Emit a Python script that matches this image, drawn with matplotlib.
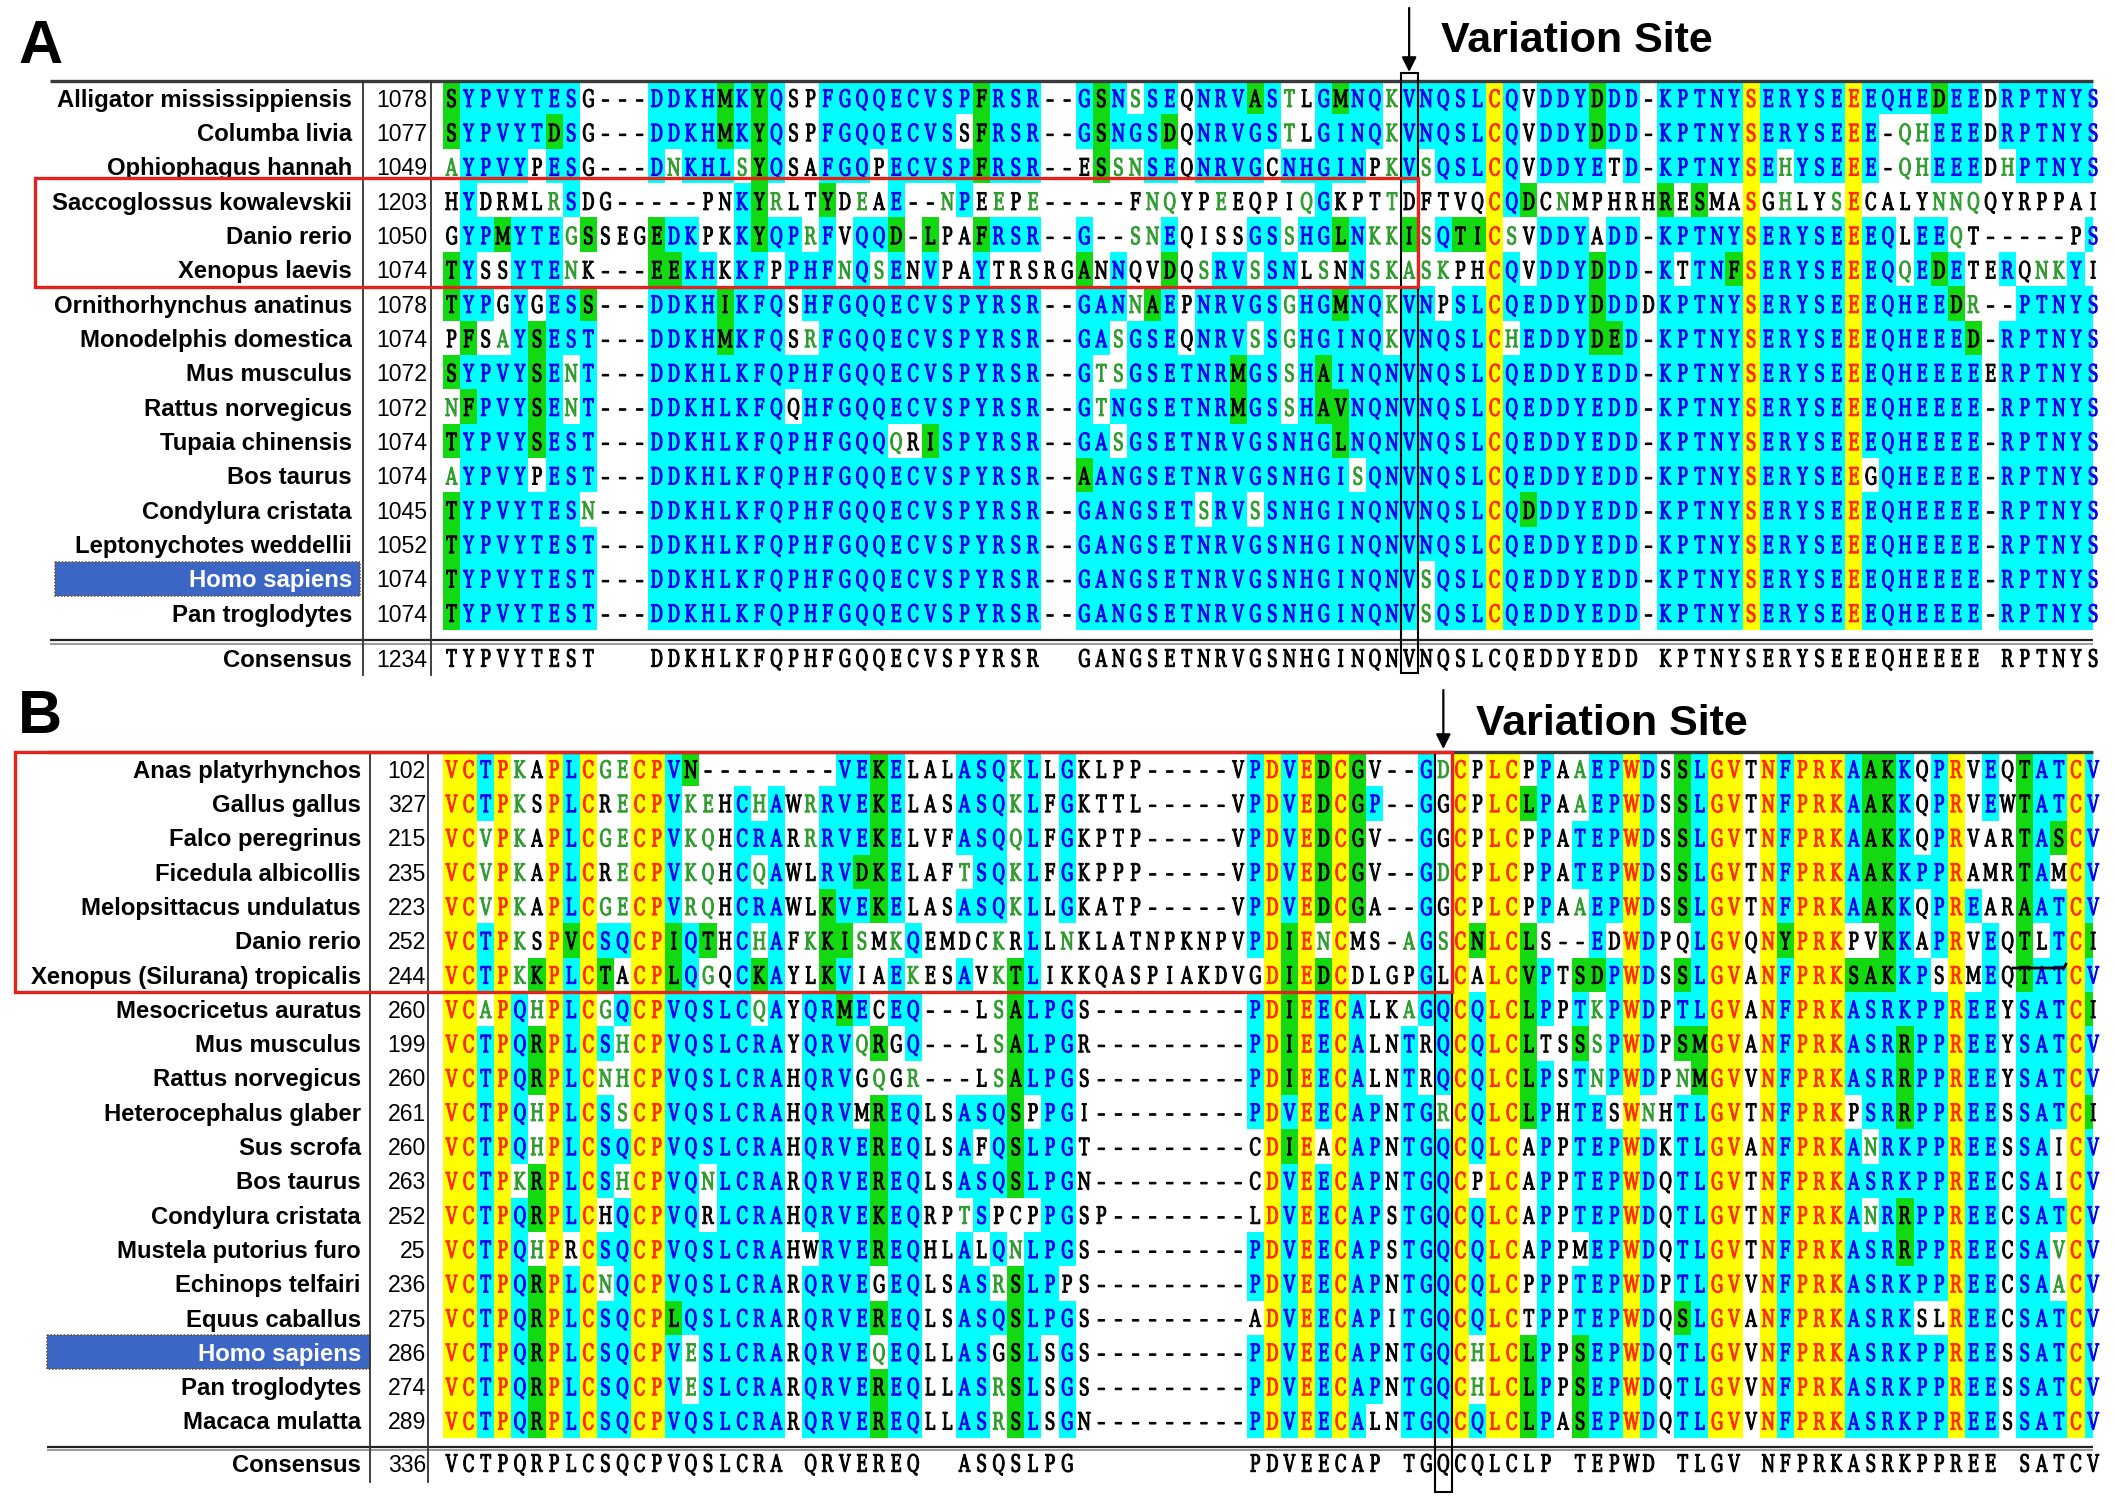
import numpy as np
import matplotlib
matplotlib.use("Agg")
import matplotlib.pyplot as plt
from matplotlib.textpath import TextPath
from matplotlib.font_manager import FontProperties
from matplotlib.path import Path
from matplotlib.patches import PathPatch, Rectangle
from matplotlib.colors import to_rgb

# ============================ DATA ============================
# ---- panel A ----
species_a = ["Alligator mississippiensis", "Columba livia", "Ophiophagus hannah",
             "Saccoglossus kowalevskii", "Danio rerio", "Xenopus laevis",
             "Ornithorhynchus anatinus", "Monodelphis domestica", "Mus musculus",
             "Rattus norvegicus", "Tupaia chinensis", "Bos taurus",
             "Condylura cristata", "Leptonychotes weddellii", "Homo sapiens",
             "Pan troglodytes"]
start_a = [1078, 1077, 1049, 1203, 1050, 1074, 1078, 1074, 1072, 1072,
           1074, 1074, 1045, 1052, 1074, 1074]
seq_a = [
    "SYPVYTESG---" "DDKHMKYQSPFGQQECVSPFRSR" "--" "GSNSSEQNRVASTLGMNQK" "V" "NQSL" "C" "QVDDYDDD" "-" "KPTNY" "S" "ERYSE" "E" "EQHEDEED" "RPTNYS",
    "SYPVYTDSG---" "DDKHMKYQSPFGQQECVSSFRSR" "--" "GSNGSDQNRVGSTLGINQK" "V" "NQSL" "C" "QVDDYDDD" "-" "KPTNY" "S" "ERYSE" "E" "E-QHEEED" "RPTNYS",
    "AYPVYPESG---" "DNKHLSYQSAFGQPECVSPFRSR" "--" "ESSNSEQNRVGCNHGINPK" "V" "SQSL" "C" "QVDDYETD" "-" "KPTNY" "S" "EHYSE" "E" "E-QHEEED" "HPTNYS",
    "HYDRMLRSDG--" "---PNKYRLTYDEAE--NPEEPE" "--" "---FNQYPEEQPIQGKPTT" "D" "FTVQ" "C" "QDCNMPHR" "H" "RESMA" "S" "GHLYS" "E" "CALYNNQQ" "YRPPAI",
    "GYPMYTEGSSEG" "EDKPKKYQPRFVQQD-LPAFRSR" "--" "G--SNEQISSGSSHGLNKK" "I" "SQTI" "C" "SVDDYADD" "-" "KPTNY" "S" "ERYSE" "E" "EQLEEQT-" "----PS",
    "TYSSYTENK---" "EEKHKKFPPHFNQSENVPAYTRS" "RG" "ANNQVDQSRVSSNLSNNSK" "A" "SKPH" "C" "QVDDYDDD" "-" "KTTNF" "S" "ERYSE" "E" "EQQEDETE" "RQNKYI",
    "TYPGYGESS---" "DDKHIKFQSHFGQQECVSPYRSR" "--" "GANNAEPNRVGSGHGMNQK" "V" "NPSL" "C" "QEDDYDDD" "D" "KPTNY" "S" "ERYSE" "E" "EQHEEDR-" "-PTNYS",
    "PFSAYSEST---" "DDKHMKFQSRFGQQECVSPYRSR" "--" "GASGSEQNRVSSGHGINQK" "V" "NQSL" "C" "HEDDYDED" "-" "KPTNY" "S" "ERYSE" "E" "EQHEEED-" "RPTNYS",
    "SYPVYSENT---" "DDKHLKFQPHFGQQECVSPYRSR" "--" "GTSGSETNRMGSSHAINQN" "V" "NQSL" "C" "QEDDYEDD" "-" "KPTNY" "S" "ERYSE" "E" "EQHEEEEE" "RPTNYS",
    "NFPVYSENT---" "DDKHLKFQQHFGQQECVSPYRSR" "--" "GTNGSETNRMGSSHAVNQN" "V" "NQSL" "C" "QEDDYEDD" "-" "KPTNY" "S" "ERYSE" "E" "EQHEEEE-" "RPTNYS",
    "TYPVYSEST---" "DDKHLKFQPHFGQQQRISPYRSR" "--" "GASGSETNRVGSNHGLNQN" "V" "NQSL" "C" "QEDDYEDD" "-" "KPTNY" "S" "ERYSE" "E" "EQHEEEE-" "RPTNYS",
    "AYPVYPEST---" "DDKHLKFQPHFGQQECVSPYRSR" "--" "AANGSETNRVGSNHGISQN" "V" "NQSL" "C" "QEDDYEDD" "-" "KPTNY" "S" "ERYSE" "E" "GQHEEEE-" "RPTNYS",
    "TYPVYTESN---" "DDKHLKFQPHFGQQECVSPYRSR" "--" "GANGSETSRVSSNHGINQN" "V" "NQSL" "C" "QDDDYEDD" "-" "KPTNY" "S" "ERYSE" "E" "EQHEEEE-" "RPTNYS",
    "TYPVYTEST---" "DDKHLKFQPHFGQQECVSPYRSR" "--" "GANGSETNRVGSNHGINQN" "V" "NQSL" "C" "QEDDYEDD" "-" "KPTNY" "S" "ERYSE" "E" "EQHEEEE-" "RPTNYS",
    "TYPVYTEST---" "DDKHLKFQPHFGQQECVSPYRSR" "--" "GANGSETNRVGSNHGINQN" "V" "SQSL" "C" "QEDDYEDD" "-" "KPTNY" "S" "ERYSE" "E" "EQHEEEE-" "RPTNYS",
    "TYPVYTEST---" "DDKHLKFQPHFGQQECVSPYRSR" "--" "GANGSETNRVGSNHGINQN" "V" "SQSL" "C" "QEDDYEDD" "-" "KPTNY" "S" "ERYSE" "E" "EQHEEEE-" "RPTNYS",
]
consensus_a = ("TYPVYTEST   " "DDKHLKFQPHFGQQECVSPYRSR" "  " "GANGSETNRVGSNHGINQN" "V" "NQSL" "C"
               "QEDDYEDD" " " "KPTNY" "S" "ERYSE" "E" "EQHEEEE " "RPTNYS")
consensus_start_a = 1234
boxed_rows_a = [3, 4, 5]
variation_col_a = 57

# ---- panel B ----
species_b = ["Anas platyrhynchos", "Gallus gallus", "Falco peregrinus",
             "Ficedula albicollis", "Melopsittacus undulatus", "Danio rerio",
             "Xenopus (Silurana) tropicalis", "Mesocricetus auratus", "Mus musculus",
             "Rattus norvegicus", "Heterocephalus glaber", "Sus scrofa", "Bos taurus",
             "Condylura cristata", "Mustela putorius furo", "Echinops telfairi",
             "Equus caballus", "Homo sapiens", "Pan troglodytes", "Macaca mulatta"]
start_b = [102, 327, 215, 235, 223, 252, 244, 260, 199, 260, 261, 260, 263,
           252, 25, 236, 275, 286, 274, 289]
seq_b = [
    "VCTPKAPLCGECP" "VN-----" "---VEKEL" "ALASQKLLGK" "LPP-----V" "PDVEDCGV--GD" "CPLCPPAAEPWD" "SSLGVTNFPRK" "AAKKQPRVEQTATCV",
    "VCTPKSPLCRECP" "VKEHCHA" "WRRVEKEL" "ASASQKLFGK" "TTL-----V" "PDVEDCGP--GG" "CPLCLPAAEPWD" "SSLGVTNFPRK" "AAKKQPRVEWTATCV",
    "VCVPKAPLCGECP" "VKQHCRA" "RRRVEKEL" "VFASQQLFGK" "PTP-----V" "PDVEDCGV--GG" "CPLCPPATEPWD" "SSLGVTNFPRK" "AAKKQPRVARTASCV",
    "VCVPKAPLCRECP" "VKQHCQA" "WLRVDKEL" "AFTSQKLFGK" "PPP-----V" "PDVEDCGV--GD" "CPLCPPATEPWD" "SSLGVTNFPRK" "AAKKPPRAMRTAMCV",
    "VCVPKAPLCGECP" "VRQHCRA" "WLKVEKEL" "ASASQKLLGK" "ATP-----V" "PDVEDCGA--GG" "CPLCPPAAEPWD" "SSLGVTNFPRK" "AAKKQPREARAATCV",
    "VCTPKSPVCSQCP" "IQTHCHA" "FKKISMKQ" "EMDCKRLLNK" "LATNPKNPV" "PDIENCMS-AGS" "CNLCLS--EDWD" "PQLGVQNYPRK" "PVKKAPRVEQTLTCI",
    "VCTPKKPLCTACP" "LQGQCKA" "YLKVIAEK" "ESAVKTLIKK" "QASPIAKDV" "GDIEDCDLGPGL" "CALCVPTSDPWD" "SSLGVANFPRK" "SAKKPSRMEQTATCV",
    "VCAPQHPLCGQCP" "VQSLCQA" "YQRMECEQ" "---LSALPGS" "---------" "PDIEECALKAGQ" "CQLCLPPTKPWD" "PTLGVANFPRK" "ASRKPPREEYSATCI",
    "VCTPQRPLCSHCP" "VQSLCRA" "YQRVQRGQ" "---LSALPGR" "---------" "PDIEECALNTRQ" "CQLCLTSSSPWD" "PSMGVANFPRK" "ASRRPPREEYSATCV",
    "VCTPQRPLCNHCP" "VQSLCRA" "HQRVGQGR" "---LSALPGS" "---------" "PDIEECALNTRQ" "CQLCLPSTNPWD" "PNMGVVNFPRK" "ASRRPPREEYSATCV",
    "VCTPQHPLCSSCP" "VQSLCRA" "HQRVMREQ" "LSASQSPPGI" "---------" "PDVEECAPNTGR" "CQLCLPHTESWN" "HTLGVTNFPRK" "PSRRPPREESSATCI",
    "VCTPQHPLCSQCP" "VQSLCRA" "HQRVEREQ" "LSAFQSLPGT" "---------" "CDIEACAPNTGQ" "CQLCAPPTEPWD" "KTLGVANFPRK" "ANRKPPREESSAICV",
    "VCTPKRPLCSHCP" "VQNLCRA" "RQRVEREQ" "LSASQSLPGN" "---------" "CDVEECAPNTGQ" "CPLCAPPTEPWD" "QTLGVTNFPRK" "ASRKPPREECSAICV",
    "VCTPQRPLCHQCP" "VQRLCRA" "HQRVEKEQ" "RPTSPCPPGS" "P--------" "LDVEECAPSTGQ" "CQLCAPPTEPWD" "QTLGVTNFPRK" "ANRRPPREECSATCV",
    "VCTPQHPRCSQCP" "VQSLCRA" "HWRVEREQ" "HLALQNLPGS" "---------" "PDVEECAPSTGQ" "CQLCAPPMEPWD" "QTLGVTNFPRK" "ASRRPPREECSAVCV",
    "VCTPQRPLCNQCP" "VQSLCRA" "RQRVEGEQ" "LSASRSLPPS" "---------" "PDVEECAPNTGQ" "CQLCPPPTEPWD" "PTLGVVNFPRK" "ASRKPPREECSAACV",
    "VCTPQRPLCSQCP" "LQSLCRA" "RQRVEREQ" "LSASQSLPGS" "---------" "ADVEECAPITGQ" "CQLCTPPTEPWD" "QSLGVANFPRK" "ASRKSLREECSATCV",
    "VCTPQRPLCSQCP" "VESLCRA" "RQRVEQEQ" "LLASGSLSGS" "---------" "PDVEECAPNTGQ" "CHLCLPPSEPWD" "QTLGVVNFPRK" "ASRKPPREESSATCV",
    "VCTPQRPLCSQCP" "VESLCRA" "RQRVEREQ" "LLASRSLSGS" "---------" "PDVEECAPNTGQ" "CHLCLPPSEPWD" "QTLGVVNFPRK" "ASRKPPREESSATCV",
    "VCTPQRPLCSQCP" "VQSLCRA" "RQRVEREQ" "LLASRSLSGN" "---------" "PDVEECALNTGQ" "CQLCLPASEPWD" "QTLGVVNFPRK" "ASRKPPREESSATCV",
]
consensus_b = ("VCTPQRPLCSQCP" "VQSLCRA" " QRVEREQ" "  ASQSLPG " "         " "PDVEECAP TGQ"
               "CQLCLP TEPWD" " TLGV NFPRK" "ASRKPPREE SATCV")
consensus_start_b = 336
boxed_rows_b = [0, 1, 2, 3, 4, 5, 6]
variation_col_b = 59

highlight_species = "Homo sapiens"

# =================== residue similarity tables ===================
AA = "ARNDCQEGHILKMFPSTWYV"
BLOSUM62_ROWS = [
    " 4 -1 -2 -2  0 -1 -1  0 -2 -1 -1 -1 -1 -2 -1  1  0 -3 -2  0",
    "-1  5  0 -2 -3  1  0 -2  0 -3 -2  2 -1 -3 -2 -1 -1 -3 -2 -3",
    "-2  0  6  1 -3  0  0  0  1 -3 -3  0 -2 -3 -2  1  0 -4 -2 -3",
    "-2 -2  1  6 -3  0  2 -1 -1 -3 -4 -1 -3 -3 -1  0 -1 -4 -3 -3",
    " 0 -3 -3 -3  9 -3 -4 -3 -3 -1 -1 -3 -1 -2 -3 -1 -1 -2 -2 -1",
    "-1  1  0  0 -3  5  2 -2  0 -3 -2  1  0 -3 -1  0 -1 -2 -1 -2",
    "-1  0  0  2 -4  2  5 -2  0 -3 -3  1 -2 -3 -1  0 -1 -3 -2 -2",
    " 0 -2  0 -1 -3 -2 -2  6 -2 -4 -4 -2 -3 -3 -2  0 -2 -2 -3 -3",
    "-2  0  1 -1 -3  0  0 -2  8 -3 -3 -1 -2 -1 -2 -1 -2 -2  2 -3",
    "-1 -3 -3 -3 -1 -3 -3 -4 -3  4  2 -3  1  0 -3 -2 -1 -3 -1  3",
    "-1 -2 -3 -4 -1 -2 -3 -4 -3  2  4 -2  2  0 -3 -2 -1 -2 -1  1",
    "-1  2  0 -1 -3  1  1 -2 -1 -3 -2  5 -1 -3 -1  0 -1 -3 -2 -2",
    "-1 -1 -2 -3 -1  0 -2 -3 -2  1  2 -1  5  0 -2 -1 -1 -1 -1  1",
    "-2 -3 -3 -3 -2 -3 -3 -3 -1  0  0 -3  0  6 -4 -2 -2  1  3 -1",
    "-1 -2 -2 -1 -3 -1 -1 -2 -2 -3 -3 -1 -2 -4  7 -1 -1 -4 -3 -2",
    " 1 -1  1  0 -1  0  0  0 -1 -2 -2  0 -1 -2 -1  4  1 -3 -2 -2",
    " 0 -1  0 -1 -1 -1 -1 -2 -2 -1 -1 -1 -1 -2 -1  1  5 -2 -2  0",
    "-3 -3 -4 -4 -2 -2 -3 -2 -2 -3 -2 -3 -1  1 -4 -3 -2 11  2 -3",
    "-2 -2 -2 -3 -2 -1 -2 -3  2 -1 -1 -2 -1  3 -3 -2 -2  2  7 -1",
    " 0 -3 -3 -3 -1 -2 -2 -3 -3  3  1 -2  1 -1 -2 -2  0 -3 -1  4",
]
BLOSUM = {}
for i, row in enumerate(BLOSUM62_ROWS):
    for j, v in enumerate(row.split()):
        BLOSUM[(AA[i], AA[j])] = int(v)
STRONG_PAIRS = {frozenset(p) for p in ["ST", "SA", "AG", "DE", "KR", "NQ", "IL", "IV", "LV",
                                        "IM", "LM", "VM", "FY", "FW", "YW"]}

# colours
CYAN, YELLOW, GREEN, WHITE = "#00FFFF", "#FFFF00", "#12D912", "#FFFFFF"
BLUE, RED, GREEN_TXT, BLACK = "#0000F0", "#FF2A00", "#2E9B2E", "#000000"


def cell_styles(seqs, cons):
    n, m = len(seqs), len(cons)
    bg = [[WHITE] * m for _ in range(n)]
    fg = [[BLACK] * m for _ in range(n)]
    for c in range(m):
        k = cons[c]
        if k == " ":
            continue
        col = [s[c] for s in seqs]
        nid = sum(ch == k for ch in col)
        for r, ch in enumerate(col):
            if ch == "-":
                continue
            if ch == k:
                if nid == n:
                    bg[r][c], fg[r][c] = YELLOW, RED
                elif nid / n >= 0.5:
                    bg[r][c], fg[r][c] = CYAN, BLUE
                else:
                    bg[r][c], fg[r][c] = GREEN, BLACK
            elif frozenset((ch, k)) in STRONG_PAIRS:
                bg[r][c], fg[r][c] = GREEN, BLACK
            elif BLOSUM.get((ch, k), -4) >= 0:
                fg[r][c] = GREEN_TXT
    return bg, fg


# ===================== glyph machinery =====================
FP_SEQ = FontProperties(family="DejaVu Serif")
_cache = {}


def glyph(ch):
    if ch not in _cache:
        tp = TextPath((0, 0), "\u2013" if ch == "-" else ch, size=1, prop=FP_SEQ)
        ext = tp.get_extents()
        v = tp.vertices.copy()
        v[:, 0] -= (ext.x0 + ext.x1) / 2.0
        _cache[ch] = (v, tp.codes, ext.width)
    return _cache[ch]


CAP = TextPath((0, 0), "H", size=1, prop=FP_SEQ).get_extents().y1
MAXW = max(glyph(c)[2] for c in "ACDEFGHIKLMNPQRSTVWY")

# =========================== layout ===========================
W_PX, H_PX, DPI = 2115, 1504, 100
X0, PX = 443.0, 17.1          # left edge of first residue column, column pitch (px)
CLIP_PX = 2093.0
EM = 23.8                     # sequence glyph em size in px
XCOMP = min(1.0, 15.8 / (MAXW * EM))

layout = [
    dict(label="A", names=species_a, starts=start_a, seqs=seq_a, cons=consensus_a,
         cons_start=consensus_start_a, boxed=boxed_rows_a, var_col=variation_col_a,
         y_from=0, y_to=690, top=81.0, pitch=34.33, cons_y=658.0, dbl=(639.5, 643.5),
         vlines=(363, 431), vline_bot=675, name_right=352, num_right=427, line_left=50,
         red_left=35, red_top=178, red_bot=287, hl=(55, 360),
         var_top=73, var_bot=673, arrow=(8, 72), lab_base=63, vs_base=52, vs_left=1441),
    dict(label="B", names=species_b, starts=start_b, seqs=seq_b, cons=consensus_b,
         cons_start=consensus_start_b, boxed=boxed_rows_b, var_col=variation_col_b,
         y_from=690, y_to=1504, top=752.0, pitch=34.3, cons_y=1463.0, dbl=(1446.5, 1450),
         vlines=(370, 428), vline_bot=1482, name_right=361, num_right=426, line_left=47,
         red_left=15, red_top=752, red_bot=992, hl=(47, 370),
         var_top=752, var_bot=1492, arrow=(690, 749), lab_base=733, vs_base=735, vs_left=1476),
]

plt.rcParams["font.family"] = ["Liberation Sans", "DejaVu Sans"]
fig = plt.figure(figsize=(W_PX / DPI, H_PX / DPI), dpi=DPI)
fig.patch.set_facecolor("white")
axes = []

for L in layout:
    top, pitch = L["top"], L["pitch"]
    xd = lambda px: (px - X0) / PX
    yd = lambda py: (py - top) / pitch
    ax = fig.add_axes([0, 1 - L["y_to"] / H_PX, 1, (L["y_to"] - L["y_from"]) / H_PX])
    ax.set_axis_off()
    axes.append(ax)

    seqs, cons = [s.ljust(97, "-")[:97] for s in L["seqs"]], L["cons"].ljust(97)[:97]
    nrows, ncols = len(seqs), len(cons)
    bg, fg = cell_styles(seqs, cons)
    rgb = np.array([[to_rgb(c) for c in row] for row in bg])
    im = ax.imshow(rgb, extent=(0, ncols, nrows, 0), interpolation="nearest",
                   aspect="auto", zorder=1)
    clip = Rectangle((0, yd(L["y_from"])), xd(CLIP_PX), yd(L["y_to"]) - yd(L["y_from"]),
                     transform=ax.transData)
    im.set_clip_path(clip)

    gx = EM * XCOMP / PX
    gy = EM / pitch
    base_off = CAP * EM / 2 / pitch

    groups = {}

    def put(ch, col_idx, yc, color):
        v, codes, _ = glyph(ch)
        nv = np.empty_like(v)
        nv[:, 0] = col_idx + 0.5 + v[:, 0] * gx
        nv[:, 1] = yc + base_off - v[:, 1] * gy
        groups.setdefault(color, []).append(Path(nv, codes))

    for r, s in enumerate(seqs):
        for c, ch in enumerate(s):
            put(ch, c, r + 0.5, fg[r][c])
    ycons = yd(L["cons_y"])
    for c, ch in enumerate(cons):
        if ch != " ":
            put(ch, c, ycons, BLACK)
    for color, paths in groups.items():
        pp = PathPatch(Path.make_compound_path(*paths), facecolor=color, edgecolor=color,
                       lw=0.75, zorder=3)
        pp.set_clip_path(clip)
        ax.add_patch(pp)

    # names and start numbers
    name_off = 0.716 * 24 / 2 / pitch
    for r, (nm, st) in enumerate(zip(L["names"], L["starts"])):
        if nm == highlight_species:
            ax.add_patch(Rectangle((xd(L["hl"][0]), r), xd(L["hl"][1]) - xd(L["hl"][0]), 1,
                                   facecolor="#3B66C6", edgecolor="#6a5a30", lw=1.2,
                                   linestyle=(0, (1, 1)), zorder=2))
            tc = "white"
        else:
            tc = "black"
        ax.text(xd(L["name_right"]), r + 0.5 + name_off, nm, ha="right", va="baseline",
                fontsize=17.2, fontweight="bold", color=tc, zorder=4)
        ax.text(xd(L["num_right"]), r + 0.5 + name_off, str(st), ha="right", va="baseline",
                fontsize=16.6, color="black", zorder=4)
    ax.text(xd(L["name_right"]), ycons + name_off, "Consensus", ha="right", va="baseline",
            fontsize=17.2, fontweight="bold", color="black", zorder=4)
    ax.text(xd(L["num_right"]), ycons + name_off, str(L["cons_start"]), ha="right",
            va="baseline", fontsize=16.6, color="black", zorder=4)

    # rules
    ax.plot([xd(L["line_left"]), xd(CLIP_PX)], [0, 0], color="#3a3a3a", lw=2.4, zorder=5,
            solid_capstyle="butt")
    ax.plot([xd(L["line_left"]), xd(CLIP_PX)], [yd(L["dbl"][0])] * 2, color="#222222", lw=1.6,
            zorder=5, solid_capstyle="butt")
    ax.plot([xd(L["line_left"]), xd(CLIP_PX)], [yd(L["dbl"][1])] * 2, color="#9a9a9a", lw=1.4,
            zorder=5, solid_capstyle="butt")
    for vx in L["vlines"]:
        ax.plot([xd(vx)] * 2, [0, yd(L["vline_bot"])], color="#333333", lw=1.3, zorder=5)

    # variation-site column box
    vc = L["var_col"]
    ax.add_patch(Rectangle((vc - 1, yd(L["var_top"])), 1, yd(L["var_bot"]) - yd(L["var_top"]),
                           fill=False, edgecolor="black", lw=1.5, zorder=6))
    # red box around the outlier species
    ax.add_patch(Rectangle((xd(L["red_left"]), yd(L["red_top"])),
                           vc - xd(L["red_left"]), yd(L["red_bot"]) - yd(L["red_top"]),
                           fill=False, edgecolor="#E3231E", lw=2.4, zorder=7))

    # arrow + caption
    ax.annotate("", xy=(vc - 0.5, yd(L["arrow"][1])), xytext=(vc - 0.5, yd(L["arrow"][0])),
                arrowprops=dict(arrowstyle="-|>", color="black", lw=1.6,
                                mutation_scale=22, shrinkA=0, shrinkB=0), zorder=8,
                annotation_clip=False)
    ax.text(xd(L["vs_left"]), yd(L["vs_base"]), "Variation Site", ha="left", va="baseline",
            fontsize=31, fontweight="bold", color="black", zorder=8)
    ax.text(xd(18), yd(L["lab_base"]), L["label"], ha="left", va="baseline",
            fontsize=44, fontweight="bold", color="black", zorder=8)

    ax.set_xlim(-X0 / PX, (W_PX - X0) / PX)
    ax.set_ylim(yd(L["y_to"]), yd(L["y_from"]))

# small stray mark over the Xenopus row in panel B (as in the source figure)
axb, tb = axes[1], layout[1]
yb = (968 - tb["top"]) / tb["pitch"]
yb2 = (963 - tb["top"]) / tb["pitch"]
xa, xb = (2012 - X0) / PX, (2064 - X0) / PX
axb.plot([xa, xb, xb + 0.15], [yb, yb, yb2], color="black", lw=2.0, zorder=8,
         solid_capstyle="butt")

fig.savefig("out.png", dpi=DPI, facecolor="white")
